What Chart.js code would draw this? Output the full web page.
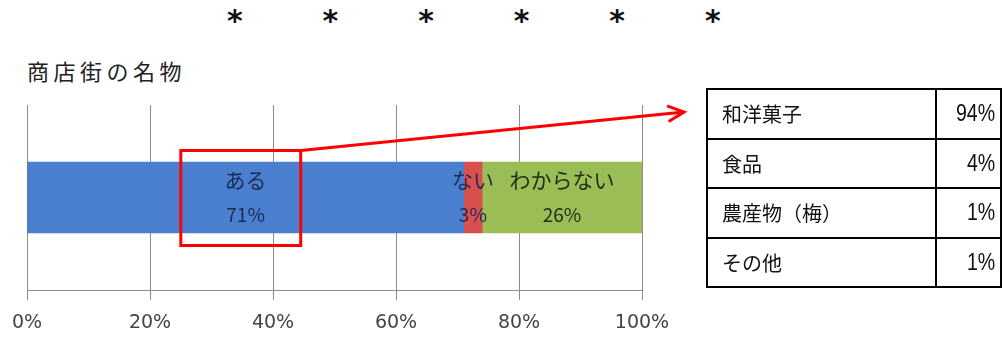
<!DOCTYPE html>
<html lang="ja">
<head>
<meta charset="UTF-8">
<script src="https://cdn.jsdelivr.net/npm/chart.js"></script>
<title>商店街の名物</title>
<style>
  html, body { margin: 0; padding: 0; background: #fff; }
  body { width: 1003px; height: 338px; position: relative; overflow: hidden; }
  #chart { position: absolute; left: 0; top: 0; }
  .stars { position: absolute; left: 187px; top: 3px; display: flex;
           font: bold 30px "DejaVu Sans", sans-serif; color: #111; }
  .stars span { width: 95.6px; text-align: center; }
  .title { position: absolute; left: 27px; top: 54px; letter-spacing: 4.5px;
           font: 22px "Noto Sans CJK JP", sans-serif; color: #222; }
  table { position: absolute; left: 706px; top: 88px; border-collapse: collapse;
          font: 20px "Noto Sans CJK JP", sans-serif; color: #111; }
  td { border: 2px solid #000; height: 47.5px; padding: 0 5px 0 14px; }
  td.name { width: 208px; }
  td.val { width: 54px; text-align: right; padding-left: 4px; font-size: 23px;
           font-family: "Liberation Sans", sans-serif; }
  td.val span { display: inline-block; transform: scaleX(0.85); transform-origin: right center; }
</style>
</head>
<body>
<div class="stars"><span>*</span><span>*</span><span>*</span><span>*</span><span>*</span><span>*</span></div>
<div class="title">商店街の名物</div>
<canvas id="chart" width="1003" height="338"></canvas>
<table id="tbl"></table>

<script>
// data
const categories = ['商店街の名物'];
const answers = ['ある', 'ない', 'わからない'];
const shares = [71, 3, 26];
const colors = ['#4a7ecf', '#d8504e', '#9bbd55'];
const labelColors = ['#1d2b55', '#1d2b55', '#1f2a18'];
const xTicks = [0, 20, 40, 60, 80, 100];

const itemNames = ['和洋菓子', '食品', '農産物（梅）', 'その他'];
const itemShares = [94, 4, 1, 1];

// table on the right
document.getElementById('tbl').innerHTML = itemNames.map((n, i) =>
    `<tr><td class="name">${n}</td><td class="val"><span>${itemShares[i]}%</span></td></tr>`).join('');

// draws the labels inside the bar, the red box and the arrow
const overlay = {
    id: 'overlay',
    afterDatasetsDraw(chart) {
        const ctx = chart.ctx;
        const xs = chart.scales.x;
        ctx.save();
        ctx.textAlign = 'center';
        ctx.textBaseline = 'middle';
        let barY = 0;
        chart.data.datasets.forEach((ds, i) => {
            const bar = chart.getDatasetMeta(i).data[0];
            const cx = (bar.x + bar.base) / 2;
            barY = bar.y;
            ctx.fillStyle = labelColors[i];
            ctx.font = '21px "Noto Sans CJK JP", sans-serif';
            ctx.fillText(ds.label, cx, bar.y - 17);
            ctx.font = '19px "Noto Sans CJK JP", sans-serif';
            ctx.fillText(ds.data[0] + '%', cx, bar.y + 17);
        });

        // red box around "ある"
        const bx1 = xs.getPixelForValue(25);
        const bx2 = xs.getPixelForValue(44.5);
        const by1 = barY - 47, by2 = barY + 48;
        ctx.strokeStyle = '#ff0000';
        ctx.lineWidth = 3;
        ctx.strokeRect(bx1, by1, bx2 - bx1, by2 - by1);

        // arrow to the table
        const tipX = 684, tipY = 112;
        ctx.beginPath();
        ctx.moveTo(bx2, by1);
        ctx.lineTo(tipX, tipY);
        ctx.stroke();
        const ang = Math.atan2(tipY - by1, tipX - bx2);
        const len = 18, spread = 0.45;
        ctx.beginPath();
        ctx.moveTo(tipX - len * Math.cos(ang - spread), tipY - len * Math.sin(ang - spread));
        ctx.lineTo(tipX, tipY);
        ctx.lineTo(tipX - len * Math.cos(ang + spread), tipY - len * Math.sin(ang + spread));
        ctx.stroke();
        ctx.restore();
    }
};

new Chart(document.getElementById('chart'), {
    type: 'bar',
    data: {
        labels: categories,
        datasets: answers.map((a, i) => ({
            label: a,
            data: [shares[i]],
            backgroundColor: colors[i],
            borderWidth: 0,
            barThickness: 71
        }))
    },
    options: {
        indexAxis: 'y',
        responsive: false,
        animation: false,
        layout: { padding: { left: 27, right: 361, top: 105, bottom: 0 } },
        plugins: { legend: { display: false }, tooltip: { enabled: false } },
        scales: {
            x: {
                stacked: true,
                min: 0,
                max: 100,
                afterBuildTicks: s => { s.ticks = xTicks.map(v => ({ value: v })); },
                afterFit: s => { s.height = 48; },
                grid: { color: '#8c8c8c', tickLength: 10 },
                border: { color: '#8c8c8c' },
                ticks: {
                    padding: 12,
                    color: '#444',
                    font: { family: 'DejaVu Sans', size: 19 },
                    callback: v => v + '%'
                }
            },
            y: { stacked: true, display: false }
        }
    },
    plugins: [overlay]
});
</script>
</body>
</html>
